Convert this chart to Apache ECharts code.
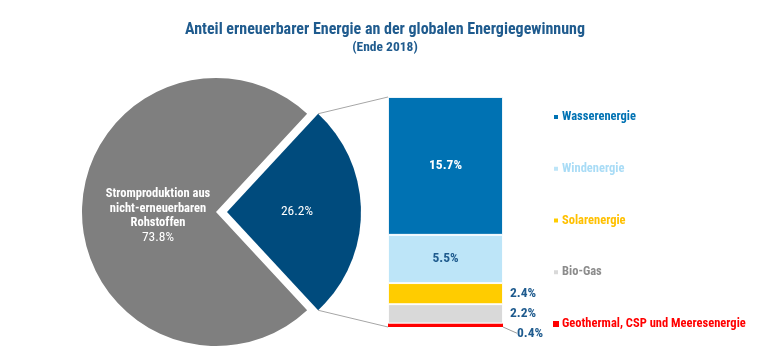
<!DOCTYPE html>
<html><head><meta charset="utf-8">
<script src="https://cdn.jsdelivr.net/npm/echarts@6/dist/echarts.min.js"></script>
<style>html,body{margin:0;padding:0;background:#fff}#c{width:770px;height:355px}</style>
</head><body><div id="c"></div>
<script>
const titleText = 'Anteil erneuerbarer Energie an der globalen Energiegewinnung';
const subtitleText = '(Ende 2018)';
const pieNames = ['Erneuerbare Energien', 'Stromproduktion aus\nnicht-erneuerbaren\nRohstoffen'];
const pieValues = [26.2, 73.8];
const barCategories = ['Wasserenergie', 'Windenergie', 'Solarenergie', 'Bio-Gas', 'Geothermal, CSP und Meeresenergie'];
const barValues = [15.7, 5.5, 2.4, 2.2, 0.4];

const FONT = '"Roboto Condensed", "DejaVu Sans Condensed", sans-serif';
const pieColors = ['#004b7d', '#7f7f7f'];
const barColors = ['#0072b3', '#bde5f8', '#ffcc00', '#d9d9d9', '#ff0000'];
const legendTextColors = ['#0072b3', '#a9dcf6', '#ffc000', '#8c8c8c', '#ff0000'];
const labelBlue = '#1f5b8e';

const PIE_C = [216, 212], PIE_R = 134, PIE_OFF = 11;
const GRID = {left: 388, top: 97, width: 115, bottom: 28};

const total = barValues.reduce((a, b) => a + b, 0);
const fmt = v => v.toFixed(1) + '%';

const chart = echarts.init(document.getElementById('c'), null, {renderer: 'canvas'});

// stack bottom->top: reverse order
const barSeries = barCategories.map((name, i) => ({ name, i })).reverse().map(({name, i}) => {
  const s = {
    name, type: 'bar', stack: 'r', barWidth: '100%',
    data: [barValues[i]],
    itemStyle: {color: barColors[i], borderColor: '#fff', borderWidth: i === 4 ? 0 : 0.9},
    label: {show: true, fontFamily: FONT, fontSize: 13.5, fontWeight: 'bold', formatter: p => fmt(p.value)},
    emphasis: {disabled: true}
  };
  if (i === 0) Object.assign(s.label, {position: 'inside', color: '#fff'});
  else if (i === 1) Object.assign(s.label, {position: 'inside', color: labelBlue});
  else if (i === 4) {
    Object.assign(s.label, {position: 'right', distance: 0, color: labelBlue, padding: [0, 0, 0, 3]});
    s.labelLayout = {dx: 11, dy: 8};
    s.labelLine = {show: true, lineStyle: {color: '#9a9a9a', width: 1}};
  } else Object.assign(s.label, {position: 'right', distance: 7, color: labelBlue});
  return s;
});

const option = {
  animation: false,
  textStyle: {fontFamily: FONT},
  title: [
    {text: titleText, left: 'center', top: 17, textStyle: {fontFamily: FONT, fontSize: 16, fontWeight: 'bold', color: '#1f5b8e'}},
    {text: subtitleText, left: 'center', top: 36, textStyle: {fontFamily: FONT, fontSize: 13.5, fontWeight: 'bold', color: '#1f5b8e'}}
  ],
  legend: {
    orient: 'vertical', left: 552, top: 110, padding: 0,
    itemWidth: 6, itemHeight: 6, icon: 'rect', itemGap: 37.75,
    selectedMode: false,
    textStyle: {fontFamily: FONT, fontSize: 12.5, fontWeight: 'bold', lineHeight: 14, padding: [0, 0, 0, -2]},
    data: barCategories.map((n, i) => ({name: n, textStyle: {color: legendTextColors[i]}}))
  },
  grid: {left: GRID.left, top: GRID.top, width: GRID.width, bottom: GRID.bottom},
  xAxis: {type: 'category', data: ['Erneuerbar'], show: false},
  yAxis: {type: 'value', min: 0, max: total, show: false},
  series: [
    {
      type: 'pie', center: PIE_C, radius: PIE_R,
      startAngle: pieValues[0] / (pieValues[0] + pieValues[1]) * 180,
      selectedMode: 'single', selectedOffset: PIE_OFF,
      emphasis: {disabled: true}, silent: true,
      data: pieNames.map((n, i) => ({
        name: n, value: pieValues[i], selected: i === 0,
        itemStyle: {color: pieColors[i]},
        label: i === 0 ? {formatter: p => fmt(p.value), offset: [2, -1]} :
          {formatter: p => '{n|' + p.name + '}\n{v|' + fmt(p.value) + '}', offset: [12, 4]}
      })),
      label: {
        show: true, position: 'inside', color: '#fff', fontFamily: FONT, fontSize: 13.5,
        rich: {
          n: {fontFamily: FONT, fontSize: 12.5, fontWeight: 'bold', color: '#fff', lineHeight: 14.5, align: 'center'},
          v: {fontFamily: FONT, fontSize: 13.5, color: '#fff', lineHeight: 15, align: 'center'}
        }
      },
      labelLine: {show: false}
    },
    ...barSeries
  ]
};
chart.setOption(option);

// connector lines from the exploded slice to the bar, computed from layout
const half = pieValues[0] / (pieValues[0] + pieValues[1]) * Math.PI;
const tipX = PIE_C[0] + PIE_OFF;
const px = tipX + PIE_R * Math.cos(half);
const pyTop = PIE_C[1] - PIE_R * Math.sin(half);
const pyBot = PIE_C[1] + PIE_R * Math.sin(half);
const topPt = chart.convertToPixel({gridIndex: 0}, ['Erneuerbar', total]);
const botPt = chart.convertToPixel({gridIndex: 0}, ['Erneuerbar', 0]);
chart.setOption({
  graphic: [
    {type: 'line', shape: {x1: px, y1: pyTop, x2: GRID.left, y2: topPt[1]}, style: {stroke: '#a6a6a6', lineWidth: 1}, silent: true},
    {type: 'line', shape: {x1: px, y1: pyBot, x2: GRID.left, y2: botPt[1]}, style: {stroke: '#a6a6a6', lineWidth: 1}, silent: true}
  ]
});
</script></body></html>
